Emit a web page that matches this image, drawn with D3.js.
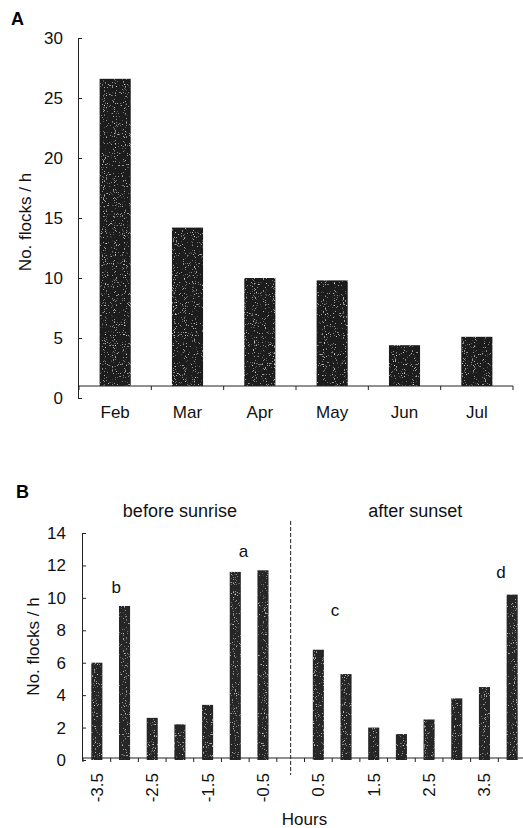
<!DOCTYPE html>
<html>
<head>
<meta charset="utf-8">
<script src="https://cdn.jsdelivr.net/npm/d3@7"></script>
<style>
  body { margin: 0; background: #fff; }
  svg { display: block; font-family: "Liberation Sans", Arial, sans-serif; }
  .domain, .tick line { stroke: #222; stroke-width: 1; }
</style>
</head>
<body>
<svg id="chart" width="523" height="828"></svg>
<script>
// Panel A: flocks per hour by month
const months = ["Feb", "Mar", "Apr", "May", "Jun", "Jul"]
const flocksMonth = [26.6, 14.2, 10.0, 9.8, 4.4, 5.1]
const ticksA = [0, 5, 10, 15, 20, 25, 30]

// Panel B: flocks per hour by hours before sunrise / after sunset
const hours = ["-3.5", "-3", "-2.5", "-2", "-1.5", "-1", "-0.5", "0",
  "0.5", "1", "1.5", "2", "2.5", "3", "3.5", "4"]
const flocksHour = [6.0, 9.5, 2.6, 2.2, 3.4, 11.6, 11.7, null,
  6.8, 5.3, 2.0, 1.6, 2.5, 3.8, 4.5, 10.2]
const hourLabels = ["-3.5", "-2.5", "-1.5", "-0.5", "0.5", "1.5", "2.5", "3.5"]
const ticksB = [0, 2, 4, 6, 8, 10, 12, 14]
const groupLabels = [{ text: "before sunrise", from: "-3.5", to: "-0.5" }, { text: "after sunset", from: "0.5", to: "4" }]
// letters over bars: [letter, position in hours, height in flocks/h]
const letters = [["a", -0.85, 12.5], ["b", -3.15, 10.3], ["c", 0.8, 8.9], ["d", 3.8, 11.2]]

const svg = d3.select("#chart")

// speckled print texture for the bars
const filt = svg.append("defs").append("filter").attr("id", "speckle")
  .attr("x", 0).attr("y", 0).attr("width", 1).attr("height", 1)
filt.append("feTurbulence").attr("type", "fractalNoise").attr("baseFrequency", 0.9)
  .attr("numOctaves", 1).attr("seed", 4).attr("result", "noise")
filt.append("feColorMatrix").attr("in", "noise").attr("type", "matrix")
  .attr("values", "0 0 0 0 1  0 0 0 0 1  0 0 0 0 1  4 0 0 0 -2.5").attr("result", "dots")
filt.append("feComposite").attr("in", "dots").attr("in2", "SourceGraphic")
  .attr("operator", "in").attr("result", "dotsIn")
const merge = filt.append("feMerge")
merge.append("feMergeNode").attr("in", "SourceGraphic")
merge.append("feMergeNode").attr("in", "dotsIn")

// ---------- Panel A ----------
const yA = d3.scaleLinear().domain([0, 30]).range([398, 38])
const xA = d3.scaleBand().domain(months).range([79, 513]).paddingInner(0.57).paddingOuter(0.285)
const baseA = 1 // x axis crosses the y axis a little above 0 in the original

const gA = svg.append("g")

gA.append("g")
  .attr("transform", "translate(78,0)")
  .call(d3.axisLeft(yA).tickValues(ticksA).tickSizeInner(-4).tickSizeOuter(-4).tickPadding(15))
  .call((g) => g.selectAll("text").attr("font-size", 17).attr("fill", "#111"))

gA.selectAll("rect.bar")
  .data(flocksMonth)
  .join("rect")
  .attr("class", "bar")
  .attr("x", (d, i) => xA(months[i]))
  .attr("width", xA.bandwidth())
  .attr("y", (d) => yA(d))
  .attr("height", (d) => yA(baseA) - yA(d))
  .attr("fill", "#1e1e1e")
  .attr("filter", "url(#speckle)")

// x axis line + boundary ticks
const stepA = xA.step()
gA.append("line")
  .attr("x1", 78).attr("x2", 513)
  .attr("y1", yA(baseA)).attr("y2", yA(baseA))
  .attr("stroke", "#222")
gA.selectAll("line.xtick")
  .data(d3.range(months.length + 1))
  .join("line")
  .attr("class", "xtick")
  .attr("x1", (i) => 79 + i * stepA).attr("x2", (i) => 79 + i * stepA)
  .attr("y1", yA(baseA)).attr("y2", yA(baseA) + 4)
  .attr("stroke", "#222")
gA.selectAll("text.month")
  .data(months)
  .join("text")
  .attr("class", "month")
  .attr("x", (d) => xA(d) + xA.bandwidth() / 2)
  .attr("y", 418)
  .attr("text-anchor", "middle")
  .attr("font-size", 17)
  .attr("fill", "#111")
  .text((d) => d)

gA.append("text")
  .attr("transform", `translate(31,${(yA(0) + yA(30)) / 2 + 4}) rotate(-90)`)
  .attr("text-anchor", "middle")
  .attr("font-size", 17)
  .attr("fill", "#111")
  .text("No. flocks / h")

gA.append("text")
  .attr("x", 11).attr("y", 25)
  .attr("font-size", 18).attr("font-weight", "bold")
  .text("A")

// ---------- Panel B ----------
const yB = d3.scaleLinear().domain([0, 14]).range([760, 533])
const xB = d3.scaleBand().domain(hours).range([83, 526]).paddingInner(0.6).paddingOuter(0.3)
const stepB = xB.step()
const baseYB = 758
// continuous hour position, for labels placed between bars
const hourX = d3.scaleLinear().domain([-3.5, 4])
  .range([xB("-3.5") + xB.bandwidth() / 2, xB("4") + xB.bandwidth() / 2])

const gB = svg.append("g")

gB.append("g")
  .attr("transform", "translate(82,0)")
  .call(d3.axisLeft(yB).tickValues(ticksB).tickSizeInner(-4).tickSizeOuter(-4).tickPadding(16))
  .call((g) => g.selectAll("text").attr("font-size", 17).attr("fill", "#111"))

gB.selectAll("rect.bar")
  .data(hours.map((h, i) => ({ h, v: flocksHour[i] })).filter((d) => d.v != null))
  .join("rect")
  .attr("class", "bar")
  .attr("x", (d) => xB(d.h))
  .attr("width", xB.bandwidth())
  .attr("y", (d) => yB(d.v))
  .attr("height", (d) => yB(0) - yB(d.v))
  .attr("fill", "#262626")
  .attr("filter", "url(#speckle)")

gB.append("line")
  .attr("x1", 82).attr("x2", 523)
  .attr("y1", baseYB).attr("y2", baseYB)
  .attr("stroke", "#222")
gB.selectAll("line.xtick")
  .data(d3.range(hours.length + 1))
  .join("line")
  .attr("class", "xtick")
  .attr("x1", (i) => 83 + i * stepB).attr("x2", (i) => 83 + i * stepB)
  .attr("y1", baseYB).attr("y2", baseYB + 4)
  .attr("stroke", "#222")

gB.selectAll("text.hour")
  .data(hourLabels)
  .join("text")
  .attr("class", "hour")
  .attr("transform", (d) => `translate(${xB(d) + xB.bandwidth() / 2 + 6},773) rotate(-90)`)
  .attr("text-anchor", "end")
  .attr("font-size", 17)
  .attr("fill", "#111")
  .text((d) => d)

// dashed divider at sunrise/sunset
const x0 = xB("0") + xB.bandwidth() / 2
gB.append("line")
  .attr("x1", x0).attr("x2", x0)
  .attr("y1", 521).attr("y2", 775)
  .attr("stroke", "#222")
  .attr("stroke-dasharray", "4,2")

gB.selectAll("text.group")
  .data(groupLabels)
  .join("text")
  .attr("class", "group")
  .attr("x", (d) => (xB(d.from) + xB(d.to) + xB.bandwidth()) / 2)
  .attr("y", 517)
  .attr("text-anchor", "middle")
  .attr("font-size", 18)
  .attr("fill", "#111")
  .text((d) => d.text)

gB.selectAll("text.letter")
  .data(letters)
  .join("text")
  .attr("class", "letter")
  .attr("x", (d) => hourX(d[1]))
  .attr("y", (d) => yB(d[2]))
  .attr("text-anchor", "middle")
  .attr("font-size", 17)
  .attr("fill", "#111")
  .text((d) => d[0])

gB.append("text")
  .attr("x", (83 + 526) / 2)
  .attr("y", 825)
  .attr("text-anchor", "middle")
  .attr("font-size", 17)
  .attr("fill", "#111")
  .text("Hours")

gB.append("text")
  .attr("transform", `translate(39,${(yB(0) + yB(14)) / 2}) rotate(-90)`)
  .attr("text-anchor", "middle")
  .attr("font-size", 17)
  .attr("fill", "#111")
  .text("No. flocks / h")

gB.append("text")
  .attr("x", 16).attr("y", 498)
  .attr("font-size", 18).attr("font-weight", "bold")
  .text("B")
</script>
</body>
</html>
